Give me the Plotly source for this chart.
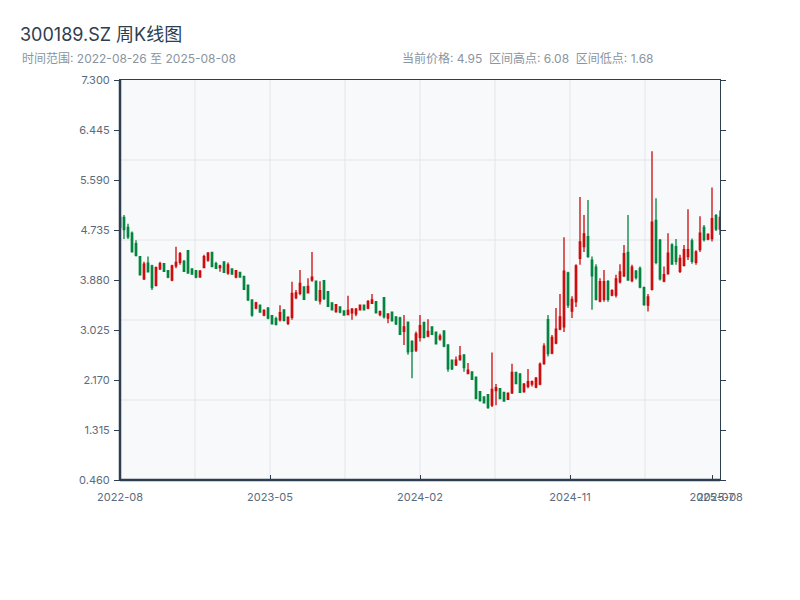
import pandas as pd
import plotly.graph_objects as go

# ---- data -------------------------------------------------------------
all_fridays = pd.date_range("2022-08-26", "2025-08-08", freq="7D")
holiday_weeks = ["2022-10-07", "2023-01-27", "2023-10-06", "2024-02-16"]
dates = [d.strftime("%Y-%m-%d") for d in all_fridays if d.strftime("%Y-%m-%d") not in holiday_weeks]

opens = [4.78, 4.95, 4.78, 4.68, 4.50, 4.28, 3.90, 4.17, 4.12, 3.79,
         4.07, 4.16, 4.04, 3.88, 4.12, 4.18, 4.20, 4.38, 4.07, 4.04,
         3.93, 4.09, 4.22, 4.35, 4.16, 4.09, 4.19, 4.00, 4.07, 3.93,
         4.01, 3.94, 3.79, 3.54, 3.40, 3.45, 3.28, 3.40, 3.27, 3.22,
         3.20, 3.37, 3.14, 3.24, 3.58, 3.65, 3.76, 3.66, 3.88, 3.86,
         3.52, 3.87, 3.68, 3.49, 3.34, 3.42, 3.35, 3.29, 3.32, 3.30,
         3.37, 3.45, 3.40, 3.48, 3.51, 3.29, 3.58, 3.23, 3.33, 3.25,
         3.23, 3.00, 3.16, 2.83, 2.68, 2.90, 3.15, 2.92, 3.08, 2.99,
         2.87, 3.01, 2.77, 2.51, 2.43, 2.52, 2.60, 2.28, 2.31, 2.22,
         1.97, 1.88, 1.92, 1.74, 1.99, 2.02, 1.96, 1.84, 1.95, 2.30,
         2.27, 1.97, 2.06, 2.10, 2.05, 2.10, 2.45, 3.20, 2.63, 2.80,
         3.04, 3.08, 4.00, 3.35, 3.51, 4.25, 4.45, 4.62, 4.22, 4.10,
         3.52, 3.55, 3.85, 3.62, 3.62, 3.85, 3.95, 4.35, 3.87, 4.03,
         4.08, 3.75, 3.45, 3.72, 4.90, 4.56, 3.86, 3.99, 4.48, 4.45,
         4.03, 4.13, 4.28, 4.55, 4.18, 4.40, 4.78, 4.58, 4.59, 4.98,
         4.75]
highs = [4.97, 4.99, 4.84, 4.71, 4.56, 4.28, 4.19, 4.28, 4.14, 4.11,
         4.19, 4.17, 4.05, 4.14, 4.45, 4.36, 4.22, 4.39, 4.08, 4.05,
         4.05, 4.31, 4.36, 4.36, 4.19, 4.14, 4.19, 4.18, 4.08, 4.05,
         4.02, 3.94, 3.79, 3.54, 3.51, 3.45, 3.38, 3.42, 3.28, 3.25,
         3.45, 3.37, 3.26, 3.85, 3.71, 4.05, 3.77, 3.91, 4.36, 3.87,
         3.86, 3.88, 3.68, 3.49, 3.47, 3.42, 3.36, 3.61, 3.40, 3.40,
         3.45, 3.45, 3.54, 3.64, 3.52, 3.36, 3.59, 3.31, 3.34, 3.26,
         3.25, 3.28, 3.17, 2.85, 3.00, 3.28, 3.17, 3.21, 3.08, 2.99,
         2.96, 3.01, 2.77, 2.51, 2.57, 2.75, 2.60, 2.46, 2.32, 2.23,
         1.97, 1.89, 1.92, 2.64, 2.10, 2.02, 1.96, 1.96, 2.45, 2.31,
         2.29, 2.12, 2.36, 2.16, 2.22, 2.47, 2.80, 3.28, 2.94, 3.40,
         3.64, 4.61, 4.02, 3.60, 4.15, 5.30, 4.99, 5.25, 4.28, 4.15,
         3.91, 4.05, 3.88, 3.72, 3.97, 4.15, 4.48, 4.99, 4.14, 4.05,
         4.11, 3.77, 3.64, 6.08, 5.28, 4.58, 4.11, 4.68, 4.51, 4.58,
         4.31, 4.48, 5.09, 4.59, 4.39, 4.97, 4.82, 4.68, 5.46, 5.01,
         5.07]
lows = [4.75, 4.58, 4.58, 4.35, 4.28, 3.96, 3.88, 4.02, 3.71, 3.77,
        4.05, 4.02, 3.91, 3.86, 4.08, 4.14, 4.02, 3.99, 3.97, 3.91,
        3.92, 4.08, 4.19, 4.11, 4.08, 4.02, 4.01, 3.97, 3.97, 3.91,
        3.92, 3.71, 3.52, 3.25, 3.38, 3.32, 3.26, 3.21, 3.12, 3.10,
        3.17, 3.17, 3.11, 3.20, 3.55, 3.62, 3.54, 3.65, 3.85, 3.52,
        3.46, 3.54, 3.42, 3.36, 3.32, 3.31, 3.27, 3.28, 3.20, 3.26,
        3.36, 3.36, 3.38, 3.47, 3.31, 3.26, 3.22, 3.14, 3.17, 3.11,
        2.94, 2.77, 2.60, 2.20, 2.65, 2.83, 2.88, 2.90, 2.94, 2.79,
        2.84, 2.73, 2.31, 2.34, 2.41, 2.50, 2.31, 2.27, 2.17, 1.84,
        1.80, 1.77, 1.68, 1.71, 1.74, 1.84, 1.80, 1.83, 1.93, 2.10,
        1.95, 1.95, 2.03, 2.06, 2.03, 2.08, 2.43, 2.57, 2.61, 2.78,
        3.02, 2.99, 3.40, 3.23, 3.42, 4.14, 4.36, 4.26, 3.37, 3.53,
        3.50, 3.51, 3.51, 3.60, 3.58, 3.82, 3.93, 3.87, 3.84, 3.89,
        3.74, 3.44, 3.34, 3.70, 4.15, 3.87, 3.84, 3.97, 4.14, 4.14,
        4.00, 4.11, 4.22, 4.16, 4.14, 4.36, 4.54, 4.56, 4.54, 4.72,
        4.65]
closes = [4.95, 4.74, 4.62, 4.36, 4.30, 3.97, 4.15, 4.02, 3.75, 4.09,
          4.16, 4.03, 3.93, 4.12, 4.18, 4.33, 4.03, 4.00, 3.98, 3.93,
          4.03, 4.28, 4.34, 4.11, 4.08, 4.12, 4.01, 4.14, 3.98, 4.04,
          3.93, 3.72, 3.54, 3.28, 3.49, 3.33, 3.36, 3.23, 3.13, 3.12,
          3.32, 3.19, 3.24, 3.65, 3.66, 3.82, 3.55, 3.77, 3.93, 3.54,
          3.70, 3.56, 3.43, 3.37, 3.46, 3.33, 3.28, 3.36, 3.38, 3.38,
          3.45, 3.37, 3.51, 3.54, 3.32, 3.34, 3.25, 3.30, 3.18, 3.13,
          2.95, 3.08, 2.65, 2.66, 2.96, 3.10, 2.90, 3.00, 2.95, 2.79,
          2.92, 2.75, 2.36, 2.36, 2.51, 2.58, 2.38, 2.34, 2.18, 1.85,
          1.82, 1.78, 1.70, 2.01, 2.04, 1.85, 1.81, 1.94, 2.30, 2.11,
          1.96, 2.10, 2.14, 2.14, 2.20, 2.44, 2.75, 2.62, 2.90, 3.04,
          3.25, 4.03, 3.45, 3.55, 4.12, 4.53, 4.67, 4.28, 3.95, 3.55,
          3.85, 3.85, 3.55, 3.70, 3.90, 4.02, 4.33, 3.88, 4.10, 3.92,
          3.76, 3.46, 3.59, 4.87, 4.18, 3.90, 3.97, 4.34, 4.15, 4.20,
          4.25, 4.40, 4.40, 4.20, 4.36, 4.68, 4.57, 4.66, 4.93, 4.75,
          4.95]

y_ticks = [0.460, 1.315, 2.170, 3.025, 3.880, 4.735, 5.590, 6.445, 7.300]
x_tick_pos = [0, 37.5, 75, 112.5, 148, 150]
x_tick_labels = ["2022-08", "2023-05", "2024-02", "2024-11", "2025-07", "2025-08"]
grid_x_fracs = [1 / 8, 2 / 8, 3 / 8, 4 / 8, 5 / 8, 6 / 8, 7 / 8]
grid_y_fracs = [1 / 5, 2 / 5, 3 / 5, 4 / 5]

title_text = "300189.SZ 周K线图"
sub_left = "时间范围: 2022-08-26 至 2025-08-08"
sub_right = "当前价格: 4.95  区间高点: 6.08  区间低点: 1.68"

# ---- figure -----------------------------------------------------------
FONT = "Inter, 'Noto Sans CJK SC', sans-serif"
AX = "#2c3e50"
GRID = "#e2e5e9"
TICKFONT = dict(family=FONT, size=11, color="#5b6b7b")
W, H = 792, 592          # page has an 8px body margin
ML, MT, MR, MB = 112, 72, 80, 120

fig = go.Figure()
fig.add_trace(go.Candlestick(
    x=dates, open=opens, high=highs, low=lows, close=closes,
    increasing=dict(line=dict(color="#cc0a0a", width=1.3), fillcolor="#ee3535"),
    decreasing=dict(line=dict(color="#00843d", width=1.3), fillcolor="#00843d"),
    whiskerwidth=0, showlegend=False,
))

shapes = []
for f in grid_x_fracs:
    shapes.append(dict(type="line", xref="paper", yref="paper", x0=f, x1=f, y0=0, y1=1,
                       line=dict(color=GRID, width=1), layer="below"))
for f in grid_y_fracs:
    shapes.append(dict(type="line", xref="paper", yref="paper", x0=0, x1=1, y0=f, y1=f,
                       line=dict(color=GRID, width=1), layer="below"))
# frame: thick left/bottom, thin top/right
shapes.append(dict(type="line", xref="paper", yref="paper", x0=0, x1=0, y0=0, y1=1,
                   line=dict(color=AX, width=2.5), layer="above"))
shapes.append(dict(type="line", xref="paper", yref="paper", x0=0, x1=1, y0=0, y1=0,
                   line=dict(color=AX, width=2.5), layer="above"))

n = len(dates)
fig.update_layout(
    width=W, height=H, autosize=False,
    margin=dict(l=ML, r=MR, t=MT, b=MB),
    paper_bgcolor="white", plot_bgcolor="#f8f9fb",
    showlegend=False, boxgap=0.5,
    font=dict(family=FONT),
    title=dict(text=title_text, x=12 / W, xanchor="left", xref="container",
               y=1 - 27 / H, yanchor="middle", yref="container",
               font=dict(family=FONT, size=18, color=AX)),
    xaxis=dict(type="category", range=[0, n - 1], autorange=False,
               rangeslider=dict(visible=False), showgrid=False, zeroline=False,
               showline=True, linewidth=1, linecolor=AX, mirror=True,
               ticks="inside", ticklen=5, tickcolor=AX, tickwidth=1,
               tickmode="array", tickvals=x_tick_pos, ticktext=x_tick_labels,
               tickfont=TICKFONT, tickangle=0, ticklabelstandoff=7),
    yaxis=dict(range=[0.46, 7.3], autorange=False, tickmode="array",
               tickvals=y_ticks, tickformat=".3f", ticks="outside", ticklen=5,
               tickcolor=AX, showline=True, linewidth=1, linecolor=AX,
               mirror="ticks", showgrid=False, zeroline=False, tickfont=TICKFONT,
               ticklabelstandoff=2),
    shapes=shapes,
    annotations=[
        dict(text=sub_left, xref="paper", yref="paper", x=-100 / 600,
             y=(480 - 58) / 400, xanchor="left", yanchor="middle",
             showarrow=False, font=dict(family=FONT, size=12, color="#8a959f")),
        dict(text=sub_right, xref="paper", yref="paper", x=280 / 600,
             y=(480 - 58) / 400, xanchor="left", yanchor="middle",
             showarrow=False, font=dict(family=FONT, size=12, color="#8a959f")),
    ],
)

fig.write_html("out.html")
